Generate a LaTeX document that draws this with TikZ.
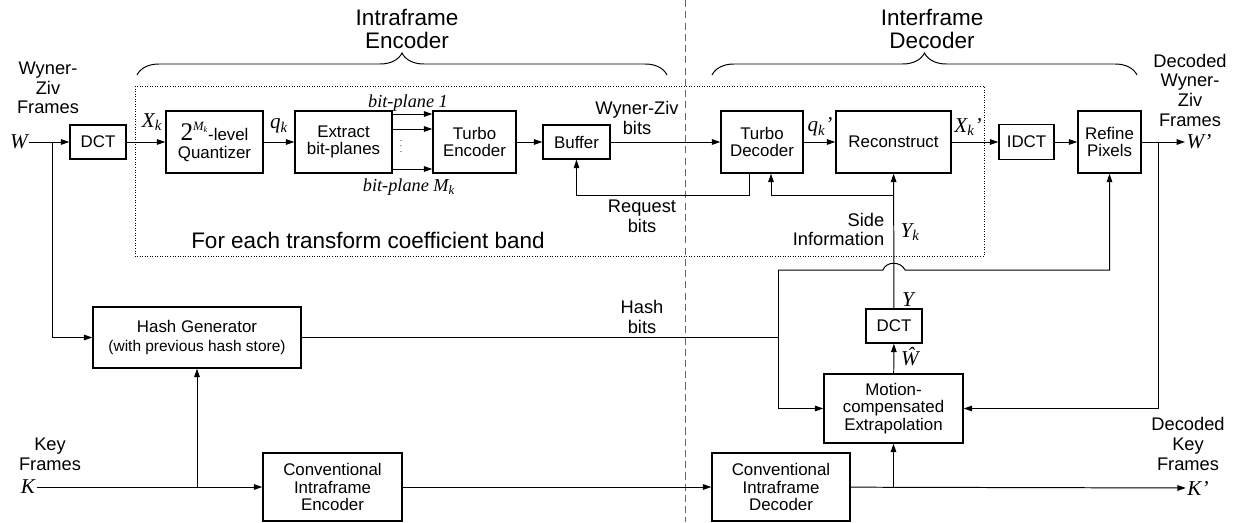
\documentclass[tikz,border=0pt]{standalone}
\usepackage{fontspec}
\setmainfont{Liberation Sans}
\newfontfamily\tms{Liberation Serif}
\usetikzlibrary{arrows.meta,decorations.pathreplacing}

\newcommand{\vsub}[2]{{\tms\itshape #1\textsubscript{#2}}}
\newcommand{\twoM}{{\fontsize{18}{18}\selectfont\tms 2}\raisebox{1.1ex}{\fontsize{9}{9}\selectfont\tms\itshape M\textsubscript{k}}-level}

\tikzset{
  blk/.style={draw, line width=1pt, align=center, inner sep=1pt, font=\fontsize{12}{12.5}\selectfont},
  lbl/.style={align=center, inner sep=1pt, font=\fontsize{13}{14}\selectfont},
  var/.style={inner sep=1pt, font=\fontsize{15}{15}\selectfont\tms\itshape},
  arr/.style={-{Triangle[length=2.1mm,width=1.4mm]}, line width=0.7pt},
  wire/.style={line width=0.7pt},
}

\begin{document}
\begin{tikzpicture}[x=0.025cm, y=-0.025cm]
\useasboundingbox (0,0) rectangle (1233,522);

% encoder / decoder split and coefficient band
\draw[black!60, line width=0.7pt, dash pattern=on 5pt off 3pt] (685,0) -- (685,522);
\draw[line width=0.6pt, dash pattern=on 0.6pt off 1.2pt] (135,86) rectangle (984,256);
\node[font=\fontsize{16}{17}\selectfont] (band) at (368,240) {For each transform coefficient band};

\node[font=\fontsize{16}{17}\selectfont, align=center] (enctitle) at (407,29) {Intraframe\\Encoder};
\node[font=\fontsize{16}{17}\selectfont, align=center] (dectitle) at (932,29) {Interframe\\Decoder};
\draw[decorate, decoration={brace, amplitude=0.55cm}, line width=0.7pt] (137,75) -- (667,75);
\draw[decorate, decoration={brace, amplitude=0.55cm}, line width=0.7pt] (712,75) -- (1137,75);

% blocks
\node[blk, minimum width=1.4cm, minimum height=0.85cm] (dct) at (98,142) {DCT};
\node[blk, minimum width=2.425cm, minimum height=1.55cm] (quant) at (214.5,142) {\twoM\\Quantizer};
\node[blk, minimum width=2.425cm, minimum height=1.55cm] (extract) at (343.5,142) {Extract\\bit-planes};
\node[blk, minimum width=2.075cm, minimum height=1.55cm] (tenc) at (474.5,142) {Turbo\\Encoder};
\node[blk, minimum width=1.675cm, minimum height=0.85cm] (buffer) at (576.5,142) {Buffer};
\node[blk, minimum width=2.05cm, minimum height=1.55cm] (tdec) at (762,142) {Turbo\\Decoder};
\node[blk, minimum width=2.875cm, minimum height=1.55cm] (recon) at (893.5,142) {Reconstruct};
\node[blk, minimum width=1.375cm, minimum height=0.875cm] (idct) at (1026.5,142) {IDCT};
\node[blk, minimum width=1.575cm, minimum height=1.55cm] (refine) at (1109.5,142) {Refine\\Pixels};
\node[blk, minimum width=5.2cm, minimum height=1.525cm, font=\fontsize{12}{14}\selectfont] (hash) at (197,337.5) {Hash Generator\\{\fontsize{11}{12}\selectfont(with previous hash store)}};
\node[blk, minimum width=3.475cm, minimum height=1.7cm] (cenc) at (332.5,487) {Conventional\\Intraframe\\Encoder};
\node[blk, minimum width=3.45cm, minimum height=1.7cm] (cdec) at (781,487) {Conventional\\Intraframe\\Decoder};
\node[blk, minimum width=3.475cm, minimum height=1.725cm] (mc) at (893.5,408.5) {Motion-\\compensated\\Extrapolation};
\node[blk, minimum width=1.4cm, minimum height=0.85cm] (dct2) at (894,326) {DCT};

% inputs, outputs and labels
\node[lbl] (wzin) at (48,88) {Wyner-\\Ziv\\Frames};
\node[var] (W) at (19,142) {W};
\node[lbl] (wzout) at (1190,90) {Decoded\\Wyner-\\Ziv\\Frames};
\node[var] (Wp) at (1199,142) {W’};
\node[lbl] (keyin) at (50,454) {Key\\Frames};
\node[var] (K) at (28,487) {K};
\node[lbl] (keyout) at (1188,444) {Decoded\\Key\\Frames};
\node[var] (Kp) at (1198,488) {K’};

\node[var] at (152,122) {X\textsubscript{k}};
\node[var] at (279,126) {q\textsubscript{k}};
\node[var] at (820,127) {q\textsubscript{k}’};
\node[var] at (968,127) {X\textsubscript{k}’};
\node[var] at (910,232) {Y\textsubscript{k}};
\node[var] at (908,300) {Y};
\node[var] at (910,357) {\^{W}};
\node[var, font=\fontsize{13}{13}\selectfont\tms\itshape] at (408,103) {bit-plane 1};
\node[var, font=\fontsize{13}{13}\selectfont\tms\itshape] at (409,187) {bit-plane M\textsubscript{k}};
\node[inner sep=0pt, font=\fontsize{6}{6}\selectfont] at (401,142) {\vdots};
\node[lbl] at (637,118) {Wyner-Ziv\\bits};
\node[lbl] at (642,216) {Request\\bits};
\node[lbl, align=right, anchor=east] at (886,229.5) {Side\\Information};
\node[lbl] at (642,317) {Hash\\bits};

% junctions
\coordinate (wsplit) at (52,142);
\coordinate (bp1) at (0,114);
\coordinate (bp2) at (0,129);
\coordinate (bp3) at (0,169);
\coordinate (req) at (749,195);
\coordinate (sib) at (771,195);
\coordinate (yk) at (893.5,195);
\coordinate (hb) at (778,270);
\coordinate (hopl) at (883,270);
\coordinate (hopr) at (905,270);
\coordinate (wo) at (1158,142);
\coordinate (ksplit) at (197,487);
\coordinate (kd) at (893.5,487);

% Wyner-Ziv path
\draw[arr] (W) -- (dct);
\draw[arr] (wsplit) |- (hash.west);
\draw[arr] (dct) -- (quant);
\draw[arr] (quant) -- (extract);
\draw[arr] (extract.east |- bp1) -- (tenc.west |- bp1);
\draw[arr] (extract.east |- bp2) -- (tenc.west |- bp2);
\draw[arr] (extract.east |- bp3) -- (tenc.west |- bp3);
\draw[arr] (tenc) -- (buffer);
\draw[arr] (buffer) -- (tdec);
\draw[arr] (tdec) -- (recon);
\draw[arr] (recon) -- (idct);
\draw[arr] (idct) -- (refine);
\draw[arr] (refine) -- (Wp);
\draw[arr] (tdec.south -| req) -- (req) -| (buffer.south);
\draw[arr] (dct2) -- (recon);
\draw[arr] (yk) -- (sib) -- (tdec.south -| sib);
\draw[arr] (mc) -- (dct2);
\draw[arr] (wo) |- (mc.east);

% hash bits to motion extrapolation and refinement
\draw[wire] (hash.east) -- (hash.east -| hb);
\draw[arr] (hb) |- (mc.west);
\draw[arr] (hb) -- (hopl) .. controls (886,261) and (901,261) .. (hopr) -| (refine.south);

% key frames
\draw[arr] (K) -- (cenc);
\draw[arr] (ksplit) -- (hash.south);
\draw[arr] (cenc) -- (cdec);
\draw[arr] (cdec) -- (Kp);
\draw[arr] (kd) -- (mc.south);
\end{tikzpicture}
\end{document}
